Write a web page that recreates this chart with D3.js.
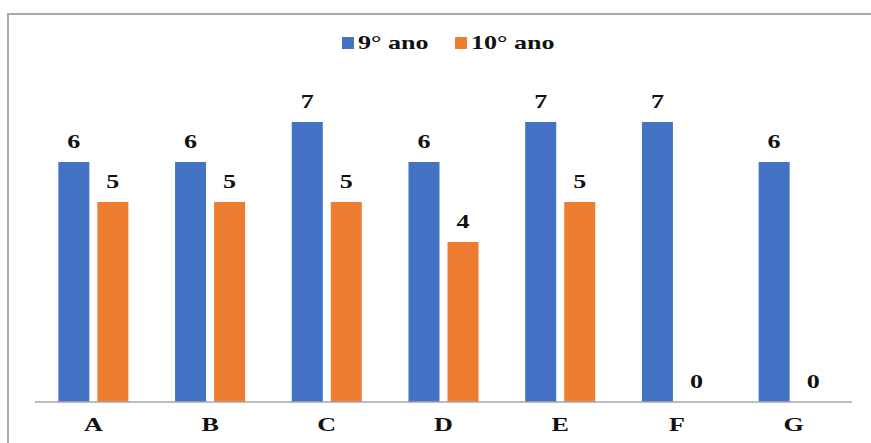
<!DOCTYPE html>
<html><head><meta charset="utf-8">
<script src="https://cdn.jsdelivr.net/npm/d3@7"></script>
<style>body{margin:0;background:#fff}svg{display:block}</style>
</head><body>
<svg id="c" width="871" height="443"></svg>
<script>
const categories = ["A","B","C","D","E","F","G"];
const seriesNames = ["9° ano","10° ano"];
const ano9 = [6,6,7,6,7,7,6];
const ano10 = [5,5,5,4,5,0,0];
const colors = ["#4472C4","#ED7D31"];

const svg = d3.select("#c");
const W = 871, H = 443;
const plotLeft = 35, plotRight = 852, plotBase = 402, plotTop = 82;
const SX = 1.45;
const FONT = '"Liberation Serif"';

// border
svg.append("rect").attr("x",8).attr("y",14).attr("width",W+20).attr("height",H+20)
  .attr("fill","none").attr("stroke","#a8a8a8").attr("stroke-width",2);

const x0 = d3.scaleBand().domain(categories).range([plotLeft,plotRight]).paddingInner(0.4).paddingOuter(0.2);
const x1 = d3.scaleBand().domain(seriesNames).range([0,x0.bandwidth()]).paddingInner(0.205);
const y = d3.scaleLinear().domain([0,8]).range([plotBase,plotTop]);

const data = categories.map((c,i)=>({cat:c, vals:[ano9[i],ano10[i]]}));

const g = svg.append("g");
const grp = g.selectAll("g.grp").data(data).enter().append("g")
  .attr("transform",d=>`translate(${x0(d.cat)},0)`);
grp.selectAll("rect").data(d=>d.vals.map((v,k)=>({v,k}))).enter().append("rect")
  .attr("x",d=>x1(seriesNames[d.k])).attr("width",x1.bandwidth())
  .attr("y",d=>y(d.v)).attr("height",d=>y(0)-y(d.v)).attr("fill",d=>colors[d.k]);
grp.selectAll("text").data(d=>d.vals.map((v,k)=>({v,k}))).enter().append("text")
  .attr("transform",d=>`translate(${x1(seriesNames[d.k])+x1.bandwidth()/2},${y(d.v)-14}) scale(${SX},1)`)
  .attr("text-anchor","middle")
  .style("font-family",FONT).style("font-weight","bold").style("font-size","18px")
  .attr("fill","#111").text(d=>d.v);

// baseline axis
const xAxis = d3.axisBottom(x0).tickSize(0).tickPadding(0);
const ax = svg.append("g").attr("transform",`translate(0,${plotBase})`).call(xAxis);
ax.select(".domain").attr("stroke","#a6a6a6").attr("stroke-width",1.5)
  .attr("d",`M${plotLeft},0H${plotRight}`);
ax.selectAll(".tick text")
  .style("font-family",FONT).style("font-weight","bold").style("font-size","18px")
  .attr("fill","#111").attr("dy",0).attr("y",0)
  .attr("transform",`translate(0,29) scale(${SX},1)`);

// legend
const legendPos = [342, 455];
const lg = svg.append("g");
seriesNames.forEach((s,k)=>{
  lg.append("rect").attr("x",legendPos[k]).attr("y",37).attr("width",12).attr("height",12).attr("fill",colors[k]);
  lg.append("text").attr("transform",`translate(${legendPos[k]+16},49) scale(${SX},1)`)
    .style("font-family",FONT).style("font-weight","bold").style("font-size","18px")
    .attr("fill","#111").text(s);
});
</script>
</body></html>
